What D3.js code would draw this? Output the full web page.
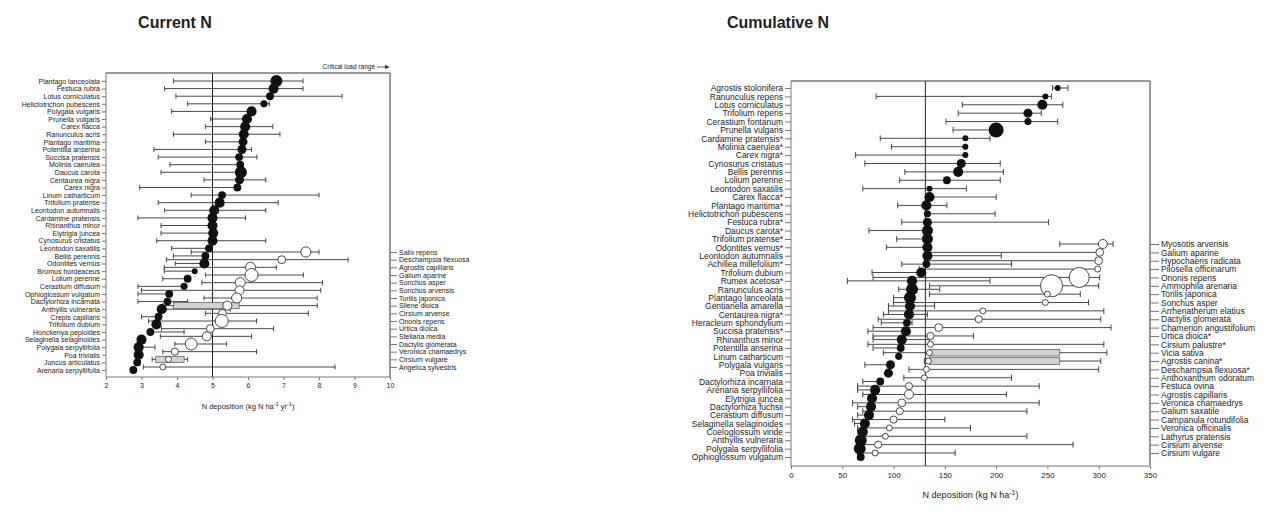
<!DOCTYPE html>
<html>
<head>
<meta charset="utf-8">
<script src="https://cdn.jsdelivr.net/npm/d3@7"></script>
<style>
body { margin: 0; background: #fff; }
text { font-family: "Liberation Sans", Arial, sans-serif; fill: #222; }
</style>
</head>
<body>
<svg id="chart" width="1287" height="512"></svg>
<script>
// ---- Current N (kg N ha-1 yr-1) ----
var curSpecies = ["Plantago lanceolata", "Festuca rubra", "Lotus corniculatus", "Helictotrichon pubescens",
  "Polygala vulgaris", "Prunella vulgaris", "Carex flacca", "Ranunculus acris", "Plantago maritima",
  "Potentilla anserina", "Succisa pratensis", "Molinia caerulea", "Daucus carota", "Centaurea nigra",
  "Carex nigra", "Linum catharticum", "Trifolium pratense", "Leontodon autumnalis", "Cardamine pratensis",
  "Rhinanthus minor", "Elytrigia juncea", "Cynosurus cristatus", "Leontodon saxatilis", "Bellis perennis",
  "Odontites vernus", "Bromus hordeaceus", "Lolium perenne", "Cerastium diffusum", "Ophioglossum vulgatum",
  "Dactylorhiza incarnata", "Anthyllis vulneraria", "Crepis capillaris", "Trifolium dubium",
  "Honckenya peploides", "Selaginella selaginoides", "Polygala serpyllifolia", "Poa trivialis",
  "Juncus articulatus", "Arenaria serpyllifolia"];
var curMean = [6.8, 6.72, 6.62, 6.45, 6.1, 5.97, 5.92, 5.88, 5.86, 5.83, 5.75, 5.78, 5.8, 5.76, 5.7, 5.27,
  5.2, 5.05, 5.0, 5.0, 5.02, 5.0, 4.9, 4.8, 4.77, 4.5, 4.3, 4.2, 3.78, 3.73, 3.57, 3.48, 3.42, 3.25, 3.0,
  2.92, 2.92, 2.88, 2.77];
var curLo = [3.9, 3.65, 3.97, 4.3, 3.85, 4.95, 4.8, 3.9, 4.8, 3.35, 3.47, 3.8, 3.55, 4.76, 2.95, 4.4,
  3.47, 3.65, 2.9, 3.55, 3.55, 3.43, 3.85, 3.9, 3.95, 3.64, 3.6, 2.9, 2.9, 2.9, 3.57, 3.0, 3.42, 3.25, 3.0,
  2.92, 2.92, 2.88, 2.77];
var curHi = [7.55, 7.55, 8.65, 6.6, 6.1, 6.0, 6.7, 6.9, 5.9, 6.1, 6.25, 5.8, 5.8, 6.5, 5.7, 8.0, 6.85, 6.5,
  5.93, 5.0, 5.02, 6.5, 4.9, 4.8, 4.8, 4.5, 4.3, 4.2, 3.78, 4.3, 5.5, 3.48, 3.42, 4.2, 3.0, 3.38, 2.92,
  2.88, 2.77];
var curN = [28, 20, 12, 10, 20, 20, 20, 20, 16, 16, 12, 12, 28, 16, 12, 12, 20, 20, 20, 20, 20, 20, 12, 12,
  20, 7, 12, 10, 12, 12, 20, 12, 20, 12, 20, 20, 20, 12, 12];

var curOpenSpecies = ["Salix repens", "Deschampsia flexuosa", "Agrostis capillaris", "Galium aparine",
  "Sonchus asper", "Sonchus arvensis", "Torilis japonica", "Silene dioica", "Cirsium arvense",
  "Ononis repens", "Urtica dioica", "Stellaria media", "Dactylis glomerata", "Veronica chamaedrys",
  "Cirsium vulgare", "Angelica sylvestris"];
var curOpenMean = [7.63, 6.95, 6.07, 6.1, 5.78, 5.76, 5.68, 5.42, 5.28, 5.26, 4.94, 4.84, 4.4, 3.94, 3.76, 3.6];
var curOpenLo = [4.4, 3.7, 3.64, 4.8, 4.7, 3.0, 4.76, 3.6, 4.8, 3.2, 3.56, 3.53, 3.94, 3.6, 3.3, 3.05];
var curOpenHi = [8.0, 8.82, 6.8, 7.56, 8.1, 8.05, 7.95, 7.95, 7.7, 6.24, 6.72, 6.1, 5.4, 6.24, 4.3, 8.45];
var curOpenN = [20, 12, 20, 33, 20, 16, 20, 16, 12, 33, 12, 16, 28, 10, 7, 7];
var curGreySpecies = ["Silene dioica", "Cirsium vulgare"];
var curGreyLo = [3.9, 3.4];
var curGreyHi = [5.75, 4.2];
var curTicks = [2, 3, 4, 5, 6, 7, 8, 9, 10];
var curRefLine = 5;

// ---- Cumulative N (kg N ha-1) ----
var cumSpecies = ["Agrostis stolonifera", "Ranunculus repens", "Lotus corniculatus", "Trifolium repens",
  "Cerastium fontanum", "Prunella vulgaris", "Cardamine pratensis*", "Molinia caerulea*", "Carex nigra*",
  "Cynosurus cristatus", "Bellis perennis", "Lolium perenne", "Leontodon saxatilis", "Carex flacca*",
  "Plantago maritima*", "Helictotrichon pubescens", "Festuca rubra*", "Daucus carota*",
  "Trifolium pratense*", "Odontites vernus*", "Leontodon autumnalis", "Achillea millefolium*",
  "Trifolium dubium", "Rumex acetosa*", "Ranunculus acris", "Plantago lanceolata", "Gentianella amarella",
  "Centaurea nigra*", "Heracleum sphondylium", "Succisa pratensis*", "Rhinanthus minor",
  "Potentilla anserina", "Linum catharticum", "Polygala vulgaris", "Poa trivialis",
  "Dactylorhiza incarnata", "Arenaria serpyllifolia", "Elytrigia juncea", "Dactylorhiza fuchsii",
  "Cerastium diffusum", "Selaginella selaginoides", "Coeloglossum viride", "Anthyllis vulneraria",
  "Polygala serpyllifolia", "Ophioglossum vulgatum"];
var cumMean = [260, 248, 245, 231, 231, 200, 170, 170, 170, 166, 163, 152, 135, 135, 132, 133, 133, 133,
  133, 133, 133, 132, 127, 118, 118, 116, 116, 115, 113, 112, 108, 107, 105, 97, 95, 87, 82, 79, 78, 76,
  72, 70, 68, 67, 68];
var cumLo = [255, 83, 167, 163, 151, 158, 87, 98, 63, 72, 111, 106, 70, 135, 104, 133, 108, 76, 103, 93,
  133, 108, 79, 55, 105, 100, 95, 90, 88, 75, 80, 80, 105, 72, 95, 70, 65, 79, 65, 65, 62, 65, 65, 65, 65];
var cumHi = [270, 254, 265, 244, 260, 200, 194, 170, 170, 204, 207, 204, 171, 200, 152, 199, 251, 133,
  133, 133, 205, 215, 127, 194, 145, 118, 140, 133, 118, 112, 135, 107, 105, 97, 95, 87, 82, 79, 78, 76,
  72, 70, 68, 67, 68];
var cumN = [7, 7, 20, 16, 10, 44, 7, 7, 7, 16, 20, 12, 7, 20, 20, 10, 16, 24, 24, 20, 20, 12, 20, 20, 28,
  28, 20, 20, 12, 20, 20, 12, 10, 16, 16, 12, 20, 20, 20, 20, 20, 20, 28, 28, 12];

var cumOpenSpecies = ["Myosotis arvensis", "Galium aparine", "Hypochaeris radicata", "Pilosella officinarum",
  "Ononis repens", "Ammophila arenaria", "Torilis japonica", "Sonchus asper", "Arrhenatherum elatius",
  "Dactylis glomerata", "Chamerion angustifolium", "Urtica dioica*", "Cirsium palustre*", "Vicia sativa",
  "Agrostis canina*", "Deschampsia flexuosa*", "Anthoxanthum odoratum", "Festuca ovina",
  "Agrostis capillaris", "Veronica chamaedrys", "Galium saxatile", "Campanula rotundifolia",
  "Veronica officinalis", "Lathyrus pratensis", "Cirsium arvense", "Cirsium vulgare"];
var cumOpenMean = [304, 301, 300, 299, 281, 254, 250, 248, 187, 183, 144, 136, 136, 135, 134, 132, 130,
  115, 115, 108, 106, 100, 96, 92, 85, 82];
var cumOpenLo = [262, 135, 130, 125, 80, 135, 135, 100, 95, 85, 80, 80, 75, 90, 130, 115, 110, 65, 70,
  60, 70, 60, 65, 70, 65, 65];
var cumOpenHi = [314, 302, 300, 299, 301, 300, 282, 290, 305, 302, 312, 178, 305, 308, 302, 300, 215,
  242, 210, 242, 230, 150, 175, 230, 275, 160];
var cumOpenN = [16, 12, 12, 7, 78, 95, 7, 7, 7, 10, 12, 10, 7, 7, 7, 7, 7, 10, 16, 12, 10, 10, 7, 7, 10, 7];
var cumGreySpecies = ["Vicia sativa", "Agrostis canina*"];
var cumGreyLo = [135, 135];
var cumGreyHi = [262, 262];
var cumTicks = [0, 50, 100, 150, 200, 250, 300, 350];
var cumRefLine = 131;

var svg = d3.select("#chart");
var rScale = d3.scaleSqrt().domain([0, 50]).range([0, 8]);

function rows(names, mean, lo, hi, n) {
  return names.map(function(s, i) {
    return { s: s, m: mean[i], lo: lo[i], hi: hi[i], n: n[i] };
  });
}

function drawPanel(o) {
  var g = svg.append("g");
  var x = d3.scaleLinear().domain(o.xDomain).range([o.left, o.right]);
  var y = d3.scalePoint().domain(o.species).range(o.rowRange);
  var y2 = d3.scalePoint().domain(o.openSpecies).range(o.openRange);

  // frame: top border and right border
  g.append("line").attr("x1", o.left).attr("x2", o.right).attr("y1", o.top).attr("y2", o.top)
    .attr("stroke", "#999").attr("stroke-width", 2);
  g.append("line").attr("x1", o.right).attr("x2", o.right).attr("y1", o.top).attr("y2", o.bottom)
    .attr("stroke", "#777").attr("stroke-width", 1);

  // axes
  var ax = g.append("g").attr("transform", "translate(0," + o.bottom + ")")
    .call(d3.axisBottom(x).tickValues(o.ticks).tickSize(3).tickPadding(3));
  var ay = g.append("g").attr("transform", "translate(" + o.left + ",0)")
    .call(d3.axisLeft(y).tickSize(o.tickL).tickPadding(2));
  var ay2 = g.append("g").attr("transform", "translate(" + o.right + ",0)")
    .call(d3.axisRight(y2).tickSize(o.tickR).tickPadding(2));
  [ax, ay, ay2].forEach(function(a) {
    a.select(".domain").attr("stroke", "#777");
    a.selectAll(".tick line").attr("stroke", "#777");
    a.selectAll("text").attr("font-size", o.fs).attr("fill", "#1a1a1a")
      .attr("font-family", "'Liberation Sans', Arial, sans-serif");
  });
  ay.select(".domain").attr("d", "M0," + o.top + "V" + o.bottom);
  ay2.select(".domain").attr("d", "M0," + o.top + "V" + o.bottom);
  ax.select(".domain").attr("d", "M" + o.left + ",0H" + o.right);
  ax.selectAll("text").attr("font-size", o.tfs).attr("fill", "#444");

  // reference line
  g.append("line").attr("x1", x(o.ref)).attr("x2", x(o.ref)).attr("y1", o.top).attr("y2", o.bottom)
    .attr("stroke", "#222").attr("stroke-width", 1);

  function whiskers(data, yy, cls) {
    var w = g.append("g").attr("class", cls).attr("stroke", "#333").attr("stroke-width", 0.9);
    w.selectAll("line.bar").data(data).enter().append("line").attr("class", "bar")
      .attr("x1", function(d) { return x(d.lo); }).attr("x2", function(d) { return x(d.hi); })
      .attr("y1", function(d) { return yy(d.s); }).attr("y2", function(d) { return yy(d.s); });
    w.selectAll("line.capl").data(data).enter().append("line").attr("class", "capl")
      .attr("x1", function(d) { return x(d.lo); }).attr("x2", function(d) { return x(d.lo); })
      .attr("y1", function(d) { return yy(d.s) - o.cap; }).attr("y2", function(d) { return yy(d.s) + o.cap; });
    w.selectAll("line.caph").data(data).enter().append("line").attr("class", "caph")
      .attr("x1", function(d) { return x(d.hi); }).attr("x2", function(d) { return x(d.hi); })
      .attr("y1", function(d) { return yy(d.s) - o.cap; }).attr("y2", function(d) { return yy(d.s) + o.cap; });
  }
  whiskers(o.openData, y2, "wo");
  whiskers(o.data, y, "wb");

  // grey range boxes
  g.selectAll("rect.grey").data(o.grey).enter().append("rect").attr("class", "grey")
    .attr("x", function(d) { return x(d.lo); })
    .attr("width", function(d) { return x(d.hi) - x(d.lo); })
    .attr("y", function(d) { return y2(d.s) - y2.step() * 0.4; })
    .attr("height", y2.step() * 0.8)
    .attr("fill", "#d2d2d2").attr("stroke", "#555").attr("stroke-width", 0.7);

  g.selectAll("circle.open").data(o.openData).enter().append("circle").attr("class", "open")
    .attr("cx", function(d) { return x(d.m); }).attr("cy", function(d) { return y2(d.s); })
    .attr("r", function(d) { return rScale(d.n); })
    .attr("fill", "#fff").attr("stroke", "#333").attr("stroke-width", 0.9);

  g.selectAll("circle.fill").data(o.data).enter().append("circle").attr("class", "fill")
    .attr("cx", function(d) { return x(d.m); }).attr("cy", function(d) { return y(d.s); })
    .attr("r", function(d) { return rScale(d.n); })
    .attr("fill", "#111");

  // titles
  svg.append("text").attr("x", o.titleX).attr("y", 28).attr("text-anchor", "middle")
    .attr("font-size", 16).attr("font-weight", "bold").attr("fill", "#111").text(o.title);

  var xt = svg.append("text").attr("x", (o.left + o.right) / 2).attr("y", o.bottom + o.xTitleDy)
    .attr("text-anchor", "middle").attr("font-size", o.fs + 0.5).attr("fill", "#333");
  o.unitParts.forEach(function(p) {
    if (p.sup) {
      xt.append("tspan").attr("dy", -3).attr("font-size", o.fs - 1.5).text(p.t);
    } else {
      xt.append("tspan").attr("dy", p.after ? 3 : 0).text(p.t);
    }
  });
  return { x: x, y: y, g: g };
}

var p1 = drawPanel({
  title: "Current N", titleX: 175,
  xDomain: [2, 10], left: 106, right: 390, top: 73, bottom: 377,
  rowRange: [81, 370], openRange: [252, 367],
  species: curSpecies, openSpecies: curOpenSpecies,
  data: rows(curSpecies, curMean, curLo, curHi, curN),
  openData: rows(curOpenSpecies, curOpenMean, curOpenLo, curOpenHi, curOpenN),
  grey: curGreySpecies.map(function(s, i) { return { s: s, lo: curGreyLo[i], hi: curGreyHi[i] }; }),
  ticks: curTicks, ref: curRefLine, tickL: 4, tickR: 7, cap: 2.5, fs: 7, tfs: 7, xTitleDy: 32,
  unitParts: [{ t: "N deposition (kg N ha" }, { t: "-1", sup: true }, { t: " yr", after: true },
    { t: "-1", sup: true }, { t: ")", after: true }]
});

var p2 = drawPanel({
  title: "Cumulative N", titleX: 778,
  xDomain: [0, 350], left: 791, right: 1150, top: 81, bottom: 466,
  rowRange: [88, 457], openRange: [244, 453],
  species: cumSpecies, openSpecies: cumOpenSpecies,
  data: rows(cumSpecies, cumMean, cumLo, cumHi, cumN),
  openData: rows(cumOpenSpecies, cumOpenMean, cumOpenLo, cumOpenHi, cumOpenN),
  grey: cumGreySpecies.map(function(s, i) { return { s: s, lo: cumGreyLo[i], hi: cumGreyHi[i] }; }),
  ticks: cumTicks, ref: cumRefLine, tickL: 6, tickR: 9, cap: 3, fs: 8.5, tfs: 8, xTitleDy: 32,
  unitParts: [{ t: "N deposition (kg N ha" }, { t: "-1", sup: true }, { t: ")", after: true }]
});

// critical load range note (top-right of current panel)
svg.append("text").attr("x", 375).attr("y", 69).attr("text-anchor", "end")
  .attr("font-size", 6.5).attr("fill", "#333").text("Critical load range");
svg.append("line").attr("x1", 377).attr("x2", 387).attr("y1", 67).attr("y2", 67)
  .attr("stroke", "#333").attr("stroke-width", 0.8);
svg.append("path").attr("d", "M390,67L385,65L385,69Z").attr("fill", "#333");
</script>
</body>
</html>
